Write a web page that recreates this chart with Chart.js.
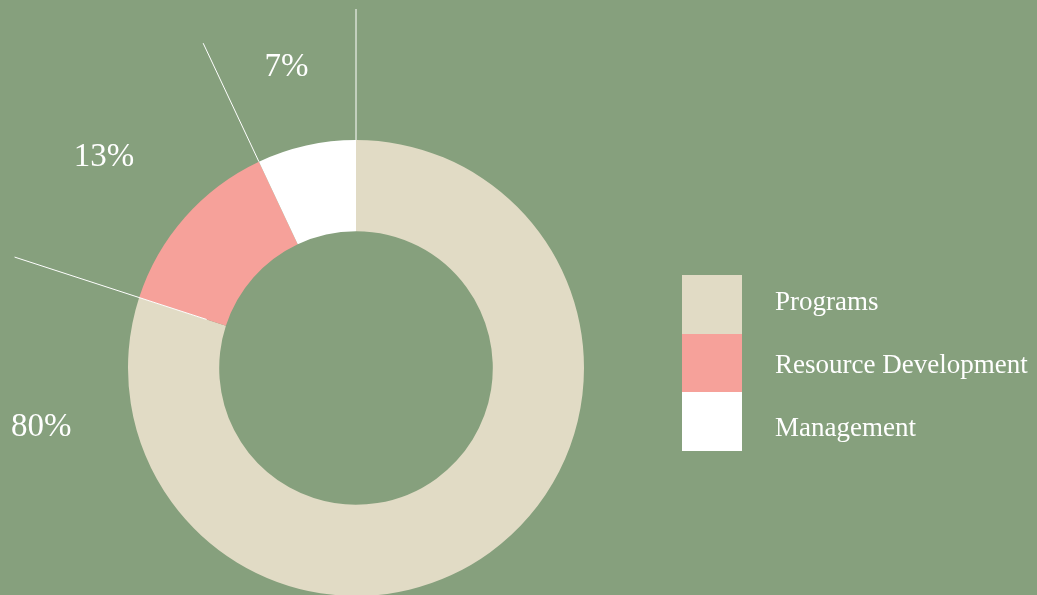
<!DOCTYPE html>
<html>
<head>
<meta charset="utf-8">
<script src="https://cdn.jsdelivr.net/npm/chart.js@4"></script>
<style>
    html, body { margin: 0; padding: 0; background: #86a07d; overflow: hidden; }
    #wrap { width: 1037px; height: 595px; overflow: hidden; }
</style>
</head>
<body>
<div id="wrap"><canvas id="rosca" width="1037" height="600"></canvas></div>
<script>
const categorias = ["Programs", "Resource Development", "Management"];
const percentuais = [80, 13, 7];
const cores = ["#e1dbc5", "#f6a19a", "#ffffff"];

const fonteSerif = "'Liberation Serif', 'DejaVu Serif', serif";

// onde cada rótulo de % fica: ângulo (graus, horário a partir do topo) e distância do centro
const posRotulos = [
    { ang: 259.7, dist: 320 },
    { ang: 310.2, dist: 330 },
    { ang: 347.1, dist: 311 }
];

const pluginLinhasERotulos = {
    id: "linhasERotulos",
    afterDatasetsDraw(chart) {
        const ctx = chart.ctx;
        const arcos = chart.getDatasetMeta(0).data;
        ctx.save();
        // linhas-guia nas divisas das fatias
        ctx.strokeStyle = "#ffffff";
        ctx.lineWidth = 1;
        for (let i = 0; i < arcos.length; i++) {
            const a = arcos[i];
            const ini = i === 1 ? 157 : a.outerRadius;
            const fim = a.outerRadius + 131;
            ctx.beginPath();
            ctx.moveTo(a.x + Math.cos(a.startAngle) * ini, a.y + Math.sin(a.startAngle) * ini);
            ctx.lineTo(a.x + Math.cos(a.startAngle) * fim, a.y + Math.sin(a.startAngle) * fim);
            ctx.stroke();
        }
        // rótulos de percentual
        ctx.fillStyle = "#ffffff";
        ctx.font = "33px " + fonteSerif;
        ctx.textAlign = "center";
        ctx.textBaseline = "middle";
        for (let i = 0; i < arcos.length; i++) {
            const a = arcos[i];
            const rad = (posRotulos[i].ang - 90) * Math.PI / 180;
            ctx.fillText(percentuais[i] + "%", a.x + Math.cos(rad) * posRotulos[i].dist, a.y + Math.sin(rad) * posRotulos[i].dist + 2);
        }
        ctx.restore();
    }
};

const pluginLegenda = {
    id: "legendaBlocos",
    afterDraw(chart) {
        const ctx = chart.ctx;
        const x = 682, topo = 275, larg = 60, alt = 58.6;
        ctx.save();
        ctx.font = "27px " + fonteSerif;
        ctx.textAlign = "left";
        ctx.textBaseline = "alphabetic";
        for (let i = 0; i < categorias.length; i++) {
            ctx.fillStyle = cores[i];
            ctx.fillRect(x, Math.round(topo + i * alt), larg, Math.round(topo + (i + 1) * alt) - Math.round(topo + i * alt));
            ctx.fillStyle = "#ffffff";
            ctx.fillText(categorias[i], 775, 310 + i * 63);
        }
        ctx.restore();
    }
};

new Chart(document.getElementById("rosca"), {
    type: "doughnut",
    data: {
        labels: categorias,
        datasets: [{
            data: percentuais,
            backgroundColor: cores,
            borderWidth: 0,
            hoverOffset: 0
        }]
    },
    options: {
        responsive: false,
        animation: false,
        cutout: "60%",
        layout: { padding: { top: 140, bottom: 4, left: 128, right: 453 } },
        plugins: {
            legend: { display: false },
            tooltip: { enabled: false }
        }
    },
    plugins: [pluginLinhasERotulos, pluginLegenda]
});
</script>
</body>
</html>
